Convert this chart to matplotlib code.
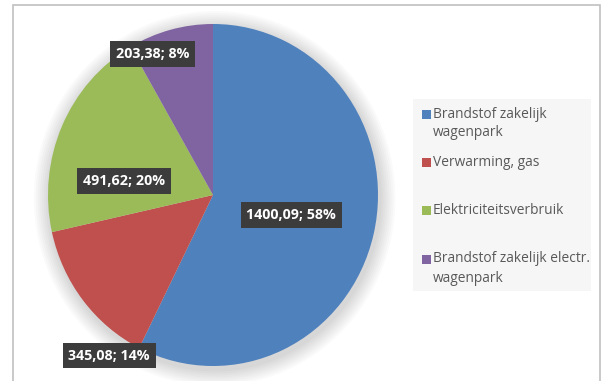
import matplotlib
matplotlib.use('Agg')
import matplotlib.pyplot as plt
from matplotlib.patches import Rectangle, Ellipse

categories = ["Brandstof zakelijk\nwagenpark", "Verwarming, gas",
              "Elektriciteitsverbruik", "Brandstof zakelijk electr.\nwagenpark"]
values = [1400.09, 345.08, 491.62, 203.38]
value_labels = ["1400,09", "345,08", "491,62", "203,38"]
percent_labels = ["58%", "14%", "20%", "8%"]
colors = ['#4F81BD', '#C0504D', '#9BBB59', '#8064A2']

FONT = 'Open Sans'
W, H = 601, 381
fig = plt.figure(figsize=(W / 100, H / 100), dpi=100)


def fx(px):
    return px / W


def fy(py):
    return 1 - py / H


# outer chart border
fig.patches.append(Rectangle((fx(12.5), fy(390)), fx(599.5) - fx(12.5), fy(4.5) - fy(390),
                             transform=fig.transFigure, fill=False, ec='#c0c0c0', lw=1.2))

# pie axes (slightly elliptical as in the reference)
cx, cy, rx, ry = 213, 195, 165, 171
ax = fig.add_axes([fx(cx - rx), fy(cy + ry), 2 * rx / W, 2 * ry / H])

# soft shadow
for k in range(8):
    e = Ellipse((0.01, -0.02), 2 * (1 + 0.012 * (k + 1)), 2 * (1 + 0.012 * (k + 1)),
                fc='#000000', ec='none', alpha=0.018, zorder=0, clip_on=False)
    ax.add_patch(e)

wedges, _ = ax.pie(values, colors=colors, startangle=90, counterclock=False, radius=1,
                   wedgeprops=dict(linewidth=0))
for w in wedges:
    w.set_zorder(2)
ax.set_xlim(-1, 1)
ax.set_ylim(-1, 1)
ax.set_aspect('auto')
ax.axis('off')

label_pos = [(0.475, -0.117), (-0.63, -0.94), (-0.54, 0.082), (-0.364, 0.825)]
for (x, y), v, p in zip(label_pos, value_labels, percent_labels):
    ax.text(x, y, f"{v}; {p}", ha='center', va='center', color='white', fontsize=10.3,
            fontweight='bold', family=FONT, zorder=5,
            bbox=dict(boxstyle='square,pad=0.4', fc='#3c3c3c', ec='none'))

# legend
fig.patches.append(Rectangle((fx(413), fy(291)), fx(591) - fx(413), fy(99) - fy(291),
                             transform=fig.transFigure, fc='#f6f6f6', ec='none'))
first_line_y = [114, 162, 210, 259]
for lab, col, yy in zip(categories, colors, first_line_y):
    fig.patches.append(Rectangle((fx(421.5), fy(yy + 4.5)), 9 / W, 9 / H,
                                 transform=fig.transFigure, fc=col, ec='none'))
    for i, line in enumerate(lab.split('\n')):
        fig.text(fx(433), fy(yy + 19 * i), line, ha='left', va='center', color='#595959',
                 fontsize=9.9, family=FONT)

fig.savefig('out.png', dpi=100)
